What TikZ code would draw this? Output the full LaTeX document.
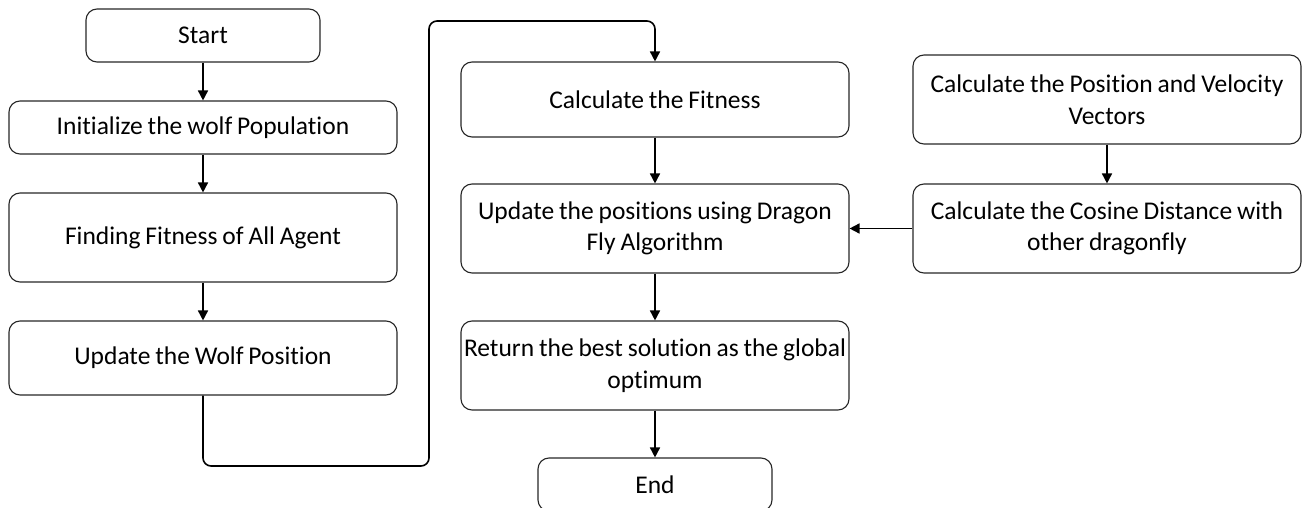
\documentclass[tikz,border=0pt]{standalone}
\usepackage{fontspec}
\setmainfont{Carlito}[Ligatures=NoCommon,WordSpace=0.85]
\usetikzlibrary{arrows.meta}
\begin{document}
\begin{tikzpicture}[x=1pt,y=-1pt,
  box/.style={draw=black!85, line width=1.1pt, rounded corners=11pt, align=center,
    inner sep=0pt, font=\fontsize{25.5}{31.5}\selectfont},
  conn/.style={draw=black, line width=1.6pt, -{Triangle[length=10pt,width=10pt]}}]
\useasboundingbox (0,0) rectangle (1302,508);
\node[box, minimum width=234pt, minimum height=53pt] (start) at (203,35.5) {Start};
\node[box, minimum width=388pt, minimum height=53pt] (init) at (203,127.5) {Initialize the wolf Population};
\node[box, minimum width=388pt, minimum height=89pt] (find) at (203,237.5) {Finding Fitness of All Agent};
\node[box, minimum width=388pt, minimum height=74pt] (wolf) at (203,358) {Update the Wolf Position};
\node[box, minimum width=388pt, minimum height=75pt] (fit) at (655,99.5) {Calculate the Fitness};
\node[box, minimum width=388pt, minimum height=89pt] (upd) at (655,228.5) {Update the positions using Dragon\\Fly Algorithm};
\node[box, minimum width=388pt, minimum height=89pt] (ret) at (655,365.5) {Return the best solution as the global\\optimum};
\node[box, minimum width=234pt, minimum height=53pt] (end) at (655,484.5) {End};
\node[box, minimum width=388pt, minimum height=89pt] (pos) at (1107,99.5) {Calculate the Position and Velocity\\Vectors};
\node[box, minimum width=388pt, minimum height=89pt] (cos) at (1107,228.5) {Calculate the Cosine Distance with\\other dragonfly};
\coordinate (c1) at (429,466);
\coordinate (c2) at (429,21);
\draw[conn] (start) -- (init);
\draw[conn] (init) -- (find);
\draw[conn] (find) -- (wolf);
\draw[conn, rounded corners=8pt] (wolf.south) |- (c1) -- (c2) -| (fit.north);
\draw[conn] (fit) -- (upd);
\draw[conn] (upd) -- (ret);
\draw[conn] (ret) -- (end);
\draw[conn] (pos) -- (cos);
\draw[conn] (cos) -- (upd);
\end{tikzpicture}
\end{document}
